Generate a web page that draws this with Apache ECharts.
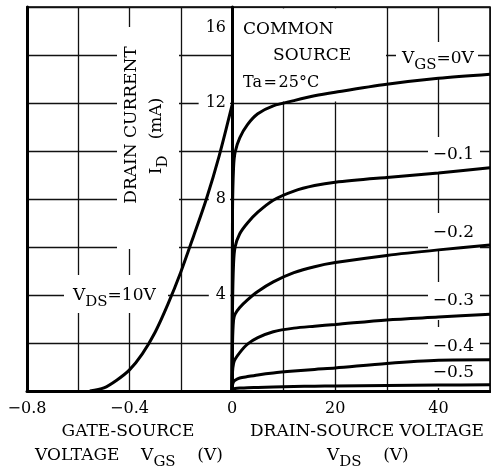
<!DOCTYPE html>
<html><head><meta charset="utf-8">
<script src="https://cdn.jsdelivr.net/npm/echarts@6/dist/echarts.min.js"></script>
<style>html,body{margin:0;padding:0;background:#fff}#c{width:491px;height:470px}</style>
</head><body><div id="c"></div>
<script>
// Transfer characteristic (V_DS = 10 V)
const transferVgs = [-0.555, -0.5, -0.45, -0.4, -0.35, -0.3, -0.25, -0.2, -0.15, -0.1, -0.05, 0];
const transferId  = [0, 0.13, 0.45, 0.88, 1.55, 2.45, 3.62, 4.95, 6.45, 8.0, 9.8, 11.9];

// Output characteristics: V_DS samples and I_D for each V_GS
const vdsSamples = [0, 0.1, 0.3, 0.6, 1.5, 3, 5, 8, 12, 16, 20, 30, 40, 50];
const idVgs0   = [0, 7.5, 9.3, 9.95, 10.55, 11.1, 11.55, 11.88, 12.1, 12.3, 12.45, 12.78, 13.03, 13.2];
const idVgsM01 = [0, 3.5, 5.3, 6.0, 6.55, 7.0, 7.45, 7.95, 8.33, 8.56, 8.7, 8.9, 9.08, 9.3];
const idVgsM02 = [0, 2.0, 2.95, 3.2, 3.48, 3.8, 4.15, 4.55, 4.93, 5.18, 5.35, 5.65, 5.88, 6.08];
const idVgsM03 = [0, 0.8, 1.15, 1.32, 1.6, 1.95, 2.22, 2.47, 2.62, 2.7, 2.77, 2.96, 3.08, 3.2];
const idVgsM04 = [0, 0.25, 0.38, 0.45, 0.54, 0.6, 0.67, 0.75, 0.83, 0.9, 0.96, 1.15, 1.28, 1.3];
const idVgsM05 = [0, 0.05, 0.08, 0.1, 0.12, 0.14, 0.15, 0.17, 0.19, 0.2, 0.21, 0.23, 0.25, 0.26];
const outputCurves = [idVgs0, idVgsM01, idVgsM02, idVgsM03, idVgsM04, idVgsM05];

const leftTickLabels = {'-0.8': '\u22120.8', '-0.4': '\u22120.4', '0': '0'};
const rightTickLabels = {'20': '20', '40': '40'};
const yTickLabels = {'4': '4', '8': '8', '12': '12', '16': '16'};

const FONT = 'DejaVu Serif';
const chart = echarts.init(document.getElementById('c'), null, {renderer: 'canvas'});

const gridLine = {show: true, lineStyle: {color: '#111', width: 1.3, type: 'solid'}};
const labelBase = {fontFamily: FONT, fontSize: 16, color: '#000'};

function curveSeries(data, xi, yi) {
  return {
    type: 'line', xAxisIndex: xi, yAxisIndex: yi, data: data,
    showSymbol: false, symbol: 'none', smooth: 0.3,
    lineStyle: {color: '#000', width: 3}, z: 3, silent: true,
    emphasis: {disabled: true}
  };
}

const series = [curveSeries(transferVgs.map((v, i) => [v, transferId[i]]), 0, 0)];
outputCurves.forEach(arr => series.push(curveSeries(vdsSamples.map((v, i) => [v, arr[i]]), 1, 1)));

function txt(x, y, text, opt) {
  opt = opt || {};
  return {
    type: 'text', x: x, y: y, rotation: opt.rotation || 0, z: 5, silent: true,
    style: {
      text: text, fill: '#000', font: (opt.size || 17) + 'px "' + FONT + '"',
      fontFamily: FONT, fontSize: opt.size || 17,
      textAlign: opt.align || 'left', align: opt.align || 'left',
      textVerticalAlign: 'middle', verticalAlign: 'middle',
      rich: {
        m: {fontFamily: FONT, fontSize: opt.size || 17, lineHeight: 20, verticalAlign: 'top', fill: '#000'},
        s: {fontFamily: FONT, fontSize: (opt.size || 17) - 2, lineHeight: 18, padding: [8, 0, 0, 0], verticalAlign: 'top', fill: '#000'}
      }
    }
  };
}
function box(x, y, w, h) {
  return {type: 'rect', shape: {x: x, y: y, width: w, height: h}, style: {fill: '#fff'}, z: 1, silent: true};
}

const option = {
  animation: false,
  backgroundColor: '#fff',
  grid: [
    {left: 27, right: 259, top: 7, bottom: 79, containLabel: false, outerBoundsMode: 'none', show: true, borderColor: '#000', borderWidth: 1.5, backgroundColor: 'transparent'},
    {left: 232, right: 1, top: 7, bottom: 79, containLabel: false, outerBoundsMode: 'none', show: true, borderColor: '#000', borderWidth: 1.5, backgroundColor: 'transparent'}
  ],
  xAxis: [
    {type: 'value', gridIndex: 0, min: -0.8, max: 0, interval: 0.2,
     axisLine: {show: true, onZero: false, lineStyle: {color: '#000', width: 3}},
     axisTick: {show: false}, splitLine: gridLine,
     axisLabel: Object.assign({}, labelBase, {margin: 10, showMinLabel: true, showMaxLabel: true,
       formatter: v => { const k = String(Math.round(v * 10) / 10); return leftTickLabels[k] || ''; }})},
    {type: 'value', gridIndex: 1, min: 0, max: 50, interval: 10,
     axisLine: {show: true, onZero: false, lineStyle: {color: '#000', width: 3}},
     axisTick: {show: false}, splitLine: gridLine,
     axisLabel: Object.assign({}, labelBase, {margin: 10,
       formatter: v => rightTickLabels[String(v)] || ''})}
  ],
  yAxis: [
    {type: 'value', gridIndex: 0, min: 0, max: 16, interval: 2, position: 'left',
     axisLine: {show: true, onZero: false, lineStyle: {color: '#000', width: 3}},
     axisTick: {show: false}, splitLine: gridLine, axisLabel: {show: false}},
    {type: 'value', gridIndex: 1, min: 0, max: 16, interval: 2, position: 'left',
     axisLine: {show: true, onZero: false, lineStyle: {color: '#000', width: 3}},
     axisTick: {show: false}, splitLine: gridLine,
     axisLabel: Object.assign({}, labelBase, {margin: 2, showMaxLabel: true,
       formatter: v => { const t = yTickLabels[String(v)]; if (!t) return ''; return v === 16 ? '{t|' + t + '}' : '{n|' + t + '}'; },
       rich: {
         t: {fontFamily: FONT, fontSize: 16, color: '#000', padding: [42, 4, 0, 0]},
         n: {fontFamily: FONT, fontSize: 16, color: '#000', backgroundColor: '#fff', padding: [3, 4, 3, 7]}
       }})}
  ],
  series: series,
  graphic: {elements: [
    box(234, 8.5, 152, 93),
    box(396, 42, 82, 36),
    box(428, 137, 52, 36),
    box(428, 213, 52, 37),
    box(428, 282, 52, 38),
    box(428, 327, 52, 61),
    box(117, 27, 62, 222),
    box(64, 275, 104, 38),
    txt(243, 30, 'COMMON'),
    txt(273, 56, 'SOURCE'),
    txt(243, 83, 'Ta\u200a=\u200a25\u00b0C', {size: 16}),
    txt(402, 60, '{m|V}{s|GS}{m|=0V}'),
    txt(474, 155, '\u22120.1', {align: 'right'}),
    txt(474, 233, '\u22120.2', {align: 'right'}),
    txt(474, 301, '\u22120.3', {align: 'right'}),
    txt(474, 347, '\u22120.4', {align: 'right'}),
    txt(474, 373, '\u22120.5', {align: 'right'}),
    txt(73, 297, '{m|V}{s|DS}{m|=10V}'),
    {type: 'text', x: 132, y: 125, rotation: Math.PI / 2, z: 5, silent: true,
     style: {text: 'DRAIN CURRENT', fill: '#000', font: '17px "DejaVu Serif"', fontFamily: FONT, fontSize: 17,
       textAlign: 'center', align: 'center', textVerticalAlign: 'middle', verticalAlign: 'middle'}},
    {type: 'text', x: 158, y: 136, rotation: Math.PI / 2, z: 5, silent: true,
     style: {text: '{m|I}{s|D}{m|   (mA)}', fill: '#000', font: '17px "DejaVu Serif"', fontFamily: FONT, fontSize: 17,
       textAlign: 'center', align: 'center', textVerticalAlign: 'middle', verticalAlign: 'middle',
       rich: {
         m: {fontFamily: FONT, fontSize: 17, lineHeight: 20, verticalAlign: 'top', fill: '#000'},
         s: {fontFamily: FONT, fontSize: 15, lineHeight: 18, padding: [8, 0, 0, 0], verticalAlign: 'top', fill: '#000'}
       }}},
    txt(128, 432, 'GATE-SOURCE', {align: 'center'}),
    txt(35, 457, '{m|VOLTAGE    V}{s|GS}{m|    (V)}'),
    txt(367, 432, 'DRAIN-SOURCE VOLTAGE', {align: 'center'}),
    txt(327, 457, '{m|V}{s|DS}{m|    (V)}')
  ]}
};
chart.setOption(option);
</script>
</body></html>
